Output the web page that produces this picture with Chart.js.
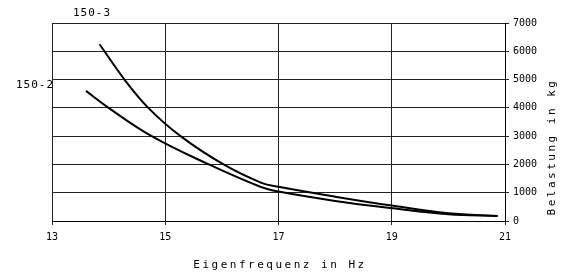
<!DOCTYPE html>
<html lang="de">
<head>
<meta charset="UTF-8">
<title>Eigenfrequenz / Belastung</title>
<script src="https://cdn.jsdelivr.net/npm/chart.js"></script>
<style>
  html, body { margin: 0; padding: 0; background: #fff; }
  #wrap { width: 581px; height: 273px; }
</style>
</head>
<body>
<div id="wrap"><canvas id="chart"></canvas></div>
<script>
// Kurve 150-3 (obere)
const freq3 = [13.84, 14.28, 14.70, 15.27, 16.03, 16.70, 17.0, 18.0, 19.0, 20.0, 20.87];
const load3 = [6250, 5000, 4000, 3000, 2000, 1350, 1210, 860, 545, 275, 180];
// Kurve 150-2 (untere)
const freq2 = [13.6, 14.0, 14.76, 15.77, 16.68, 17.0, 18.0, 19.02, 20.0, 20.87];
const load2 = [4600, 4000, 3000, 2000, 1210, 1040, 710, 450, 240, 175];

const seriesLabels = ['150-3', '150-2'];
const xTitle = 'Eigenfrequenz in Hz';
const yTitle = 'Belastung in kg';

const monoFont = { family: '"DejaVu Sans Mono", monospace', size: 10 };

function points(xs, ys) {
  return xs.map((x, i) => ({ x: x, y: ys[i] }));
}

// Beschriftungen wie im Original (Kurvennamen, Achsentitel)
const labelPlugin = {
  id: 'labels',
  afterDraw(chart) {
    const ctx = chart.ctx;
    ctx.save();
    ctx.fillStyle = '#000';
    ctx.font = '11px "DejaVu Sans Mono", monospace';
    ctx.textBaseline = 'middle';
    ctx.letterSpacing = '1px';
    ctx.textAlign = 'left';
    ctx.fillText(seriesLabels[0], 73, 13);
    ctx.fillText(seriesLabels[1], 16, 85);

    ctx.letterSpacing = '2.5px';
    ctx.textAlign = 'center';
    ctx.fillText(xTitle, 280, 265);

    ctx.translate(552, 147);
    ctx.rotate(-Math.PI / 2);
    ctx.fillText(yTitle, 0, 0);
    ctx.restore();
  }
};

const curve = {
  showLine: true,
  borderColor: '#000',
  borderWidth: 2,
  pointRadius: 0,
  tension: 0.4
};

new Chart(document.getElementById('chart'), {
  type: 'scatter',
  data: {
    datasets: [
      Object.assign({ label: seriesLabels[0], data: points(freq3, load3) }, curve),
      Object.assign({ label: seriesLabels[1], data: points(freq2, load2) }, curve)
    ]
  },
  options: {
    responsive: true,
    maintainAspectRatio: false,
    animation: false,
    layout: { padding: { left: 52, top: 23, right: 0, bottom: 0 } },
    plugins: {
      legend: { display: false },
      tooltip: { enabled: false }
    },
    scales: {
      x: {
        type: 'linear',
        min: 13,
        max: 21,
        ticks: { stepSize: 2, color: '#000', font: monoFont, padding: 6, callback: v => String(v) },
        grid: { color: '#222', lineWidth: 1, tickLength: 4 },
        border: { color: '#000', width: 1 },
        afterFit(scale) { scale.height = 52; }
      },
      y: {
        position: 'right',
        min: 0,
        max: 7000,
        ticks: { stepSize: 1000, color: '#000', font: monoFont, padding: 4, callback: v => String(v) },
        grid: { color: '#222', lineWidth: 1, tickLength: 4 },
        border: { color: '#000', width: 1 },
        afterFit(scale) { scale.width = 76; }
      }
    }
  },
  plugins: [labelPlugin]
});
</script>
</body>
</html>
